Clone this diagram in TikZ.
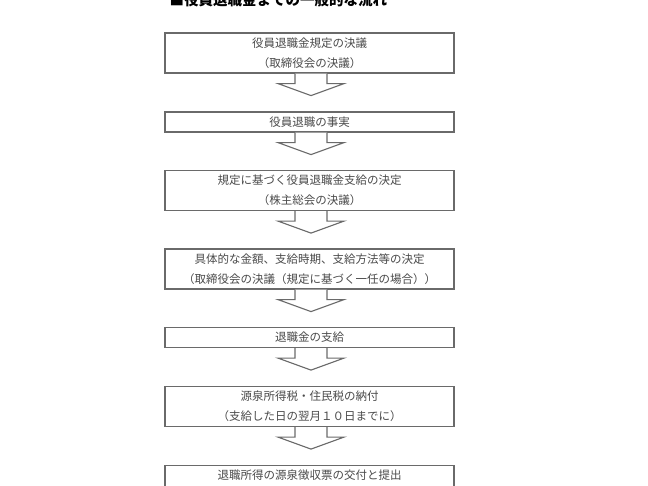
\documentclass[tikz,border=0pt]{standalone}
\usepackage{fontspec}
\setmainfont{Noto Sans CJK JP}
\usetikzlibrary{calc}
\definecolor{linegray}{HTML}{6A6A6A}
\definecolor{textgray}{HTML}{4A4A4A}
\newcommand\flowarrow[1]{%
  \draw[arrowshape] ($(#1.south)+(-14.5,0)$) -- ++(0,10) -- ++(-17,0)
    -- ($(#1.south)+(1.5,22)$) -- ($(#1.south)+(34.5,10)$) -- ++(-17,0)
    -- ++(0,-10);}
\begin{document}
\begin{tikzpicture}[x=1pt,y=-1pt,
  boxstyle/.style={draw=linegray, line width=1.1pt, fill=white,
    minimum width=289pt, text width=285pt, align=center, inner sep=0pt,
    text=textgray, font=\fontsize{11.5}{20}\selectfont, anchor=north},
  arrowshape/.style={draw=linegray, line width=1.1pt, fill=white, line join=miter},
  titlestyle/.style={anchor=base west, inner sep=0pt, font=\fontsize{14.5}{16}\selectfont\bfseries}]
\useasboundingbox (0,0) rectangle (648,486);
\clip (0,0) rectangle (648,486);
\fill[white] (0,0) rectangle (648,486);
\node[titlestyle] (title) at (169.5,6) {■役員退職金までの一般的な流れ};
\node[boxstyle, minimum height=40pt] (b1) at (309.5,32.5) {役員退職金規定の決議\\（取締役会の決議）};
\node[boxstyle, minimum height=20pt] (b2) at (309.5,111.5) {役員退職の事実};
\node[boxstyle, minimum height=40pt] (b3) at (309.5,170) {規定に基づく役員退職金支給の決定\\（株主総会の決議）};
\node[boxstyle, minimum height=40pt] (b4) at (309.5,248.5) {具体的な金額、支給時期、支給方法等の決定\\（取締役会の決議（規定に基づく一任の場合））};
\node[boxstyle, minimum height=20pt] (b5) at (309.5,327) {退職金の支給};
\node[boxstyle, minimum height=40pt] (b6) at (309.5,386) {源泉所得税・住民税の納付\\（支給した日の翌月１０日までに）};
\node[boxstyle, minimum height=40pt, text depth=20pt] (b7) at (309.5,464.5) {退職所得の源泉徴収票の交付と提出};
\flowarrow{b1}
\flowarrow{b2}
\flowarrow{b3}
\flowarrow{b4}
\flowarrow{b5}
\flowarrow{b6}
\end{tikzpicture}
\end{document}
